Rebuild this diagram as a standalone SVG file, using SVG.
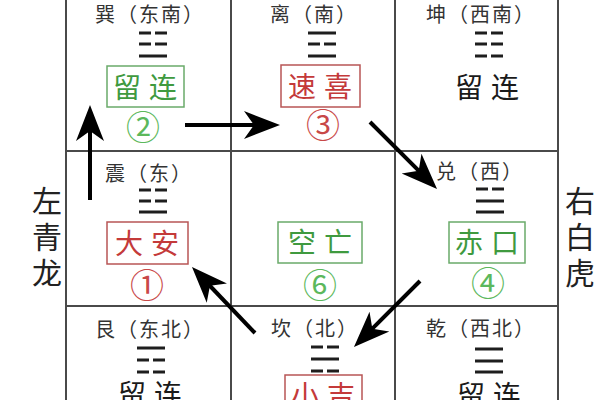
<svg xmlns="http://www.w3.org/2000/svg" width="600" height="400" viewBox="0 0 600 400">
<style>
.grid{stroke:#4a4a4a;stroke-width:2;fill:none}
.lbl{font-family:"Noto Sans CJK SC","Noto Sans",sans-serif;font-size:20px;fill:#333;text-anchor:middle;letter-spacing:2px}
.big{font-family:"Noto Sans CJK SC","Noto Sans",sans-serif;font-size:28px;text-anchor:middle;letter-spacing:8px}
.num{font-family:"Noto Sans CJK SC","Noto Sans",sans-serif;font-size:34px;text-anchor:middle}
.side{font-family:"Noto Sans CJK SC","Noto Sans",sans-serif;font-size:30px;fill:#222;writing-mode:vertical-rl;letter-spacing:6px}
.g{fill:#3f9a3f}
.gn{fill:#5cb85c}
.r{fill:#c43a3a}
.rn{fill:#c84848}
.k{fill:#1a1a1a}
.gbox{fill:none;stroke:#6aaa6a;stroke-width:1.5}
.rbox{fill:none;stroke:#b85555;stroke-width:1.5}
.yao{fill:#1e1e1e}
.arr{stroke:#000;stroke-width:4;fill:none;marker-end:url(#ah)}
</style>
<defs>
<marker id="ah" markerUnits="userSpaceOnUse" viewBox="-40 -16 42 32" markerWidth="42" markerHeight="32" refX="-20" refY="0" orient="auto">
<path d="M0,0 L-36,-14 L-26,0 L-36,14 Z" fill="#000"/>
</marker>
<rect id="solid" width="28" height="3"/>
<g id="broken"><rect width="12" height="3"/><rect x="16" width="12" height="3"/></g>
</defs>
<rect width="600" height="400" fill="#fff"/>
<g id="grid">
<line class="grid" x1="66" y1="0" x2="66" y2="400"/>
<line class="grid" x1="231" y1="0" x2="231" y2="400"/>
<line class="grid" x1="395" y1="0" x2="395" y2="400"/>
<line class="grid" x1="558" y1="0" x2="558" y2="400"/>
<line class="grid" x1="66" y1="151" x2="558" y2="151"/>
<line class="grid" x1="66" y1="306" x2="558" y2="306"/>
</g>
<g id="xun">
<text class="lbl" x="150" y="22">巽（东南）</text>
<g class="yao" transform="translate(139,0)"><use href="#broken" y="31.5"/><use href="#broken" y="42.5"/><use href="#solid" y="54.5"/></g>
<rect class="gbox" x="107" y="66" width="77" height="41"/>
<text class="big g" x="149" y="98">留连</text>
<text class="num gn" x="143" y="140">②</text>
</g>
<g id="li">
<text class="lbl" x="314" y="22">离（南）</text>
<g class="yao" transform="translate(308,0)"><use href="#solid" y="31.5"/><use href="#broken" y="42.5"/><use href="#solid" y="54.5"/></g>
<rect class="rbox" x="281" y="65" width="79" height="42"/>
<text class="big r" x="324" y="97">速喜</text>
<text class="num rn" x="323" y="138">③</text>
</g>
<g id="kun">
<text class="lbl" x="481" y="22">坤（西南）</text>
<g class="yao" transform="translate(475,0)"><use href="#broken" y="31.5"/><use href="#broken" y="42.5"/><use href="#broken" y="54.5"/></g>
<text class="big k" x="491" y="98">留连</text>
</g>
<g id="zhen">
<text class="lbl" x="149" y="181">震（东）</text>
<g class="yao" transform="translate(139,0)"><use href="#broken" y="188.5"/><use href="#broken" y="199.5"/><use href="#solid" y="210.5"/></g>
<rect class="rbox" x="107" y="222" width="81" height="42"/>
<text class="big r" x="151" y="254">大安</text>
<text class="num rn" x="147" y="298">①</text>
</g>
<g id="kongwang">
<rect class="gbox" x="278" y="222" width="84" height="41"/>
<text class="big g" x="324" y="253">空亡</text>
<text class="num gn" x="320" y="298">⑥</text>
</g>
<g id="dui">
<text class="lbl" x="480" y="179">兑（西）</text>
<g class="yao" transform="translate(476,0)"><use href="#broken" y="187.5"/><use href="#solid" y="199.5"/><use href="#solid" y="210.5"/></g>
<rect class="gbox" x="449" y="222" width="76" height="41"/>
<text class="big g" x="491" y="253">赤口</text>
<text class="num gn" x="488" y="296">④</text>
</g>
<g id="gen">
<text class="lbl" x="150" y="337">艮（东北）</text>
<g class="yao" transform="translate(137,0)"><use href="#solid" y="346.5"/><use href="#broken" y="358.5"/><use href="#broken" y="370.5"/></g>
<text class="big k" x="154" y="405">留连</text>
</g>
<g id="kan">
<text class="lbl" x="315" y="336">坎（北）</text>
<g class="yao" transform="translate(311,0)"><use href="#broken" y="345.5"/><use href="#solid" y="357.5"/><use href="#broken" y="369.5"/></g>
<rect class="rbox" x="285" y="375" width="77" height="42"/>
<text class="big r" x="327" y="406">小吉</text>
</g>
<g id="qian">
<text class="lbl" x="481" y="336">乾（西北）</text>
<g class="yao" transform="translate(475,0)"><use href="#solid" y="347.5"/><use href="#solid" y="359.5"/><use href="#solid" y="370.5"/></g>
<text class="big k" x="493" y="406">留连</text>
</g>
<g id="left-label">
<text class="side" x="47" y="186">左青龙</text>
</g>
<g id="right-label">
<text class="side" x="580" y="186">右白虎</text>
</g>
<g id="connectors">
<line class="arr" x1="90" y1="200" x2="90" y2="125"/>
<line class="arr" x1="185" y1="125" x2="260" y2="125"/>
<line class="arr" x1="370" y1="122" x2="422.9" y2="174.9"/>
<line class="arr" x1="420" y1="281" x2="368.1" y2="332.9"/>
<line class="arr" x1="255" y1="333" x2="205.8" y2="281.5"/>
</g>
</svg>
